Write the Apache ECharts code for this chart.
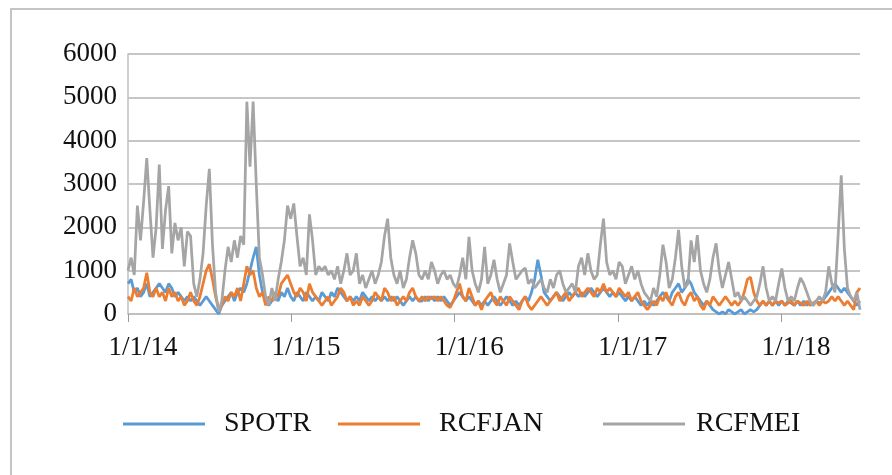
<!DOCTYPE html>
<html>
<head>
<meta charset="utf-8">
<script src="https://cdn.jsdelivr.net/npm/echarts@6/dist/echarts.min.js"></script>
<style>
  html, body { margin: 0; padding: 0; background: #fff; }
  #chart { width: 892px; height: 475px; }
</style>
</head>
<body>
<div id="chart"></div>
<script>
// weekly observations, first one on 1/1/14
var startDate = '2014-01-01';
var stepDays = 7;

var tickDates = ['2014-01-01', '2015-01-01', '2016-01-01', '2017-01-01', '2018-01-01'];
var tickLabels = ['1/1/14', '1/1/15', '1/1/16', '1/1/17', '1/1/18'];
var yTicks = [0, 1000, 2000, 3000, 4000, 5000, 6000];

var seriesNames = ['SPOTR', 'RCFJAN', 'RCFMEI'];

var spotr = [
	700,800,500,600,400,500,700,400,500,600,
	700,600,500,700,600,400,500,400,300,400,
	300,400,300,200,300,400,300,200,100,0,
	200,300,400,500,300,500,600,500,700,1000,
	1300,1550,900,500,300,200,300,400,300,500,
	400,600,400,300,500,400,300,500,400,300,
	400,300,500,400,300,500,400,600,500,400,
	300,400,300,400,300,500,400,300,400,300,
	400,300,400,300,400,300,400,300,200,300,
	400,300,400,300,300,400,300,400,300,400,
	300,400,300,200,300,400,500,400,300,400,
	300,200,300,200,300,200,300,400,300,200,
	300,400,300,200,300,200,300,400,300,500,
	800,1250,900,500,400,300,400,500,400,300,
	400,500,400,500,400,500,400,500,600,500,
	400,500,600,500,400,500,400,500,400,300,
	400,300,400,300,200,300,200,300,200,300,
	400,500,400,300,500,600,700,500,600,800,
	700,500,400,300,200,300,200,100,50,0,
	50,0,100,50,0,50,100,0,50,100,
	50,100,200,300,200,300,200,300,200,300,
	200,300,250,200,300,200,300,200,300,200,
	300,250,300,400,500,600,700,600,500,600,
	500,400,300,200,300
];

var rcfjan = [
	400,300,600,400,500,600,950,500,400,600,
	400,500,300,600,400,500,300,400,200,300,
	500,300,200,400,700,1000,1150,800,400,100,
	200,400,300,500,400,600,300,700,1100,900,
	1000,600,400,500,200,400,300,500,400,700,
	800,900,700,500,400,600,500,300,700,500,
	400,300,200,300,400,200,300,400,600,500,
	300,400,200,300,200,400,300,200,300,500,
	400,300,600,500,300,400,200,300,400,300,
	500,600,400,300,400,300,400,350,400,300,
	400,300,200,150,300,500,700,400,300,600,
	400,200,300,100,300,400,500,300,200,400,
	300,200,400,300,200,100,300,400,200,100,
	200,300,400,300,200,300,400,500,300,400,
	500,300,400,500,600,400,500,600,500,400,
	600,500,700,500,600,500,400,600,500,400,
	500,300,400,500,300,200,100,200,300,200,
	400,300,500,300,200,400,500,300,200,400,
	500,300,400,200,100,300,200,400,300,200,
	300,400,300,200,300,200,300,500,800,850,
	500,300,200,300,200,300,200,300,250,300,
	200,250,300,200,300,250,200,300,200,250,
	300,200,300,250,300,400,300,400,300,200,
	300,200,100,500,600
];

var rcfmei = [
	1000,1300,900,2500,1700,2600,3600,2400,1300,2000,
	3450,1500,2400,2950,1400,2100,1700,2000,1100,1900,
	1800,700,400,800,1400,2500,3350,1600,500,50,
	300,1000,1550,1200,1700,1300,1800,1600,4900,3400,
	4900,3000,1300,900,400,200,600,300,800,1200,
	1700,2500,2200,2550,1800,1100,1300,900,2300,1700,
	900,1100,1000,1100,900,1000,800,1100,700,1000,
	1400,900,1000,1400,700,900,600,800,1000,700,
	900,1200,1800,2200,1300,900,700,1000,600,800,
	1300,1700,1400,900,800,1000,800,1200,1000,700,
	900,1000,800,900,700,600,900,1300,800,1780,
	1000,700,500,800,1550,700,900,1250,800,500,
	700,900,1630,1200,800,900,1000,1060,700,800,
	600,700,800,600,500,800,600,900,1000,700,
	500,600,700,500,1100,1300,900,1400,1000,800,
	900,1600,2200,1200,900,1000,800,1200,1100,700,
	900,1100,800,1000,700,500,400,300,600,400,
	900,1600,1200,600,800,1300,1940,1100,600,700,
	1700,1200,1820,1000,700,500,800,1300,1630,1000,
	600,900,1200,800,400,500,300,400,300,200,
	300,400,700,1100,600,300,400,300,700,1050,
	600,300,400,300,600,830,700,500,300,200,
	300,400,300,500,1100,700,500,1800,3200,1500,
	600,400,300,500,100
];

var colors = ['#5B9BD5', '#ED7D31', '#A5A5A5'];

var DAY = 86400000;
function dayOffset(d) {
	return Math.round((Date.parse(d) - Date.parse(startDate)) / DAY);
}

// pair every value with its day offset from the start
function toPoints(values) {
	var pts = [];
	for (var i = 0; i < values.length; i++) {
		pts.push([i * stepDays, values[i]]);
	}
	return pts;
}

var tickValues = tickDates.map(dayOffset);
var lastDay = (rcfmei.length - 1) * stepDays;

var labelFont = 'Liberation Serif, Times New Roman, serif';

var chart = echarts.init(document.getElementById('chart'));

var option = {
	animation: false,
	backgroundColor: '#fff',
	color: colors,
	// chart frame: only the left and top edges fall inside the picture
	graphic: [{
		type: 'rect',
		z: -1,
		shape: { x: 11, y: 9, width: 920, height: 520 },
		style: { fill: 'none', stroke: '#c4c4c4', lineWidth: 2 }
	}],
	grid: { left: 128, right: 32, top: 54, bottom: 161 },
	legend: [
		{ data: [seriesNames[0]], left: 123, top: 410, padding: 0 },
		{ data: [seriesNames[1]], left: 338, top: 410, padding: 0 },
		{ data: [seriesNames[2]], left: 603, top: 410, padding: 0 }
	].map(function (l, i) {
		l.icon = 'rect';
		l.itemWidth = 82;
		l.itemHeight = 3;
		l.textStyle = {
			fontFamily: labelFont,
			fontSize: 28,
			color: '#111',
			padding: [0, 0, 0, i == 2 ? 6 : 14]
		};
		return l;
	}),
	xAxis: {
		type: 'value',
		min: 0,
		max: lastDay,
		axisLine: { show: true, lineStyle: { color: '#bfbfbf', width: 1.5 } },
		axisTick: {
			show: true,
			length: 8,
			customValues: tickValues,
			lineStyle: { color: '#9a9a9a' }
		},
		axisLabel: {
			customValues: tickValues,
			margin: 20,
			padding: [0, 0, 0, 30],
			fontFamily: labelFont,
			fontSize: 27,
			color: '#111',
			formatter: function (v) {
				var k = tickValues.indexOf(Math.round(v));
				return k >= 0 ? tickLabels[k] : '';
			}
		},
		splitLine: { show: false }
	},
	yAxis: {
		type: 'value',
		min: yTicks[0],
		max: yTicks[yTicks.length - 1],
		interval: yTicks[1] - yTicks[0],
		axisLine: { show: true, lineStyle: { color: '#bfbfbf', width: 1.5 } },
		axisTick: { show: false },
		axisLabel: {
			margin: 11,
			fontFamily: labelFont,
			fontSize: 27,
			color: '#111',
			formatter: function (v) { return String(v); }
		},
		splitLine: { lineStyle: { color: '#c6c6c6', width: 2 } }
	},
	series: [
		{ name: seriesNames[0], type: 'line', data: toPoints(spotr) },
		{ name: seriesNames[1], type: 'line', data: toPoints(rcfjan) },
		{ name: seriesNames[2], type: 'line', data: toPoints(rcfmei) }
	].map(function (s, i) {
		s.showSymbol = false;
		s.symbol = 'none';
		s.lineStyle = { width: 2.75, color: colors[i] };
		s.itemStyle = { color: colors[i] };
		return s;
	})
};

chart.setOption(option);
</script>
</body>
</html>
